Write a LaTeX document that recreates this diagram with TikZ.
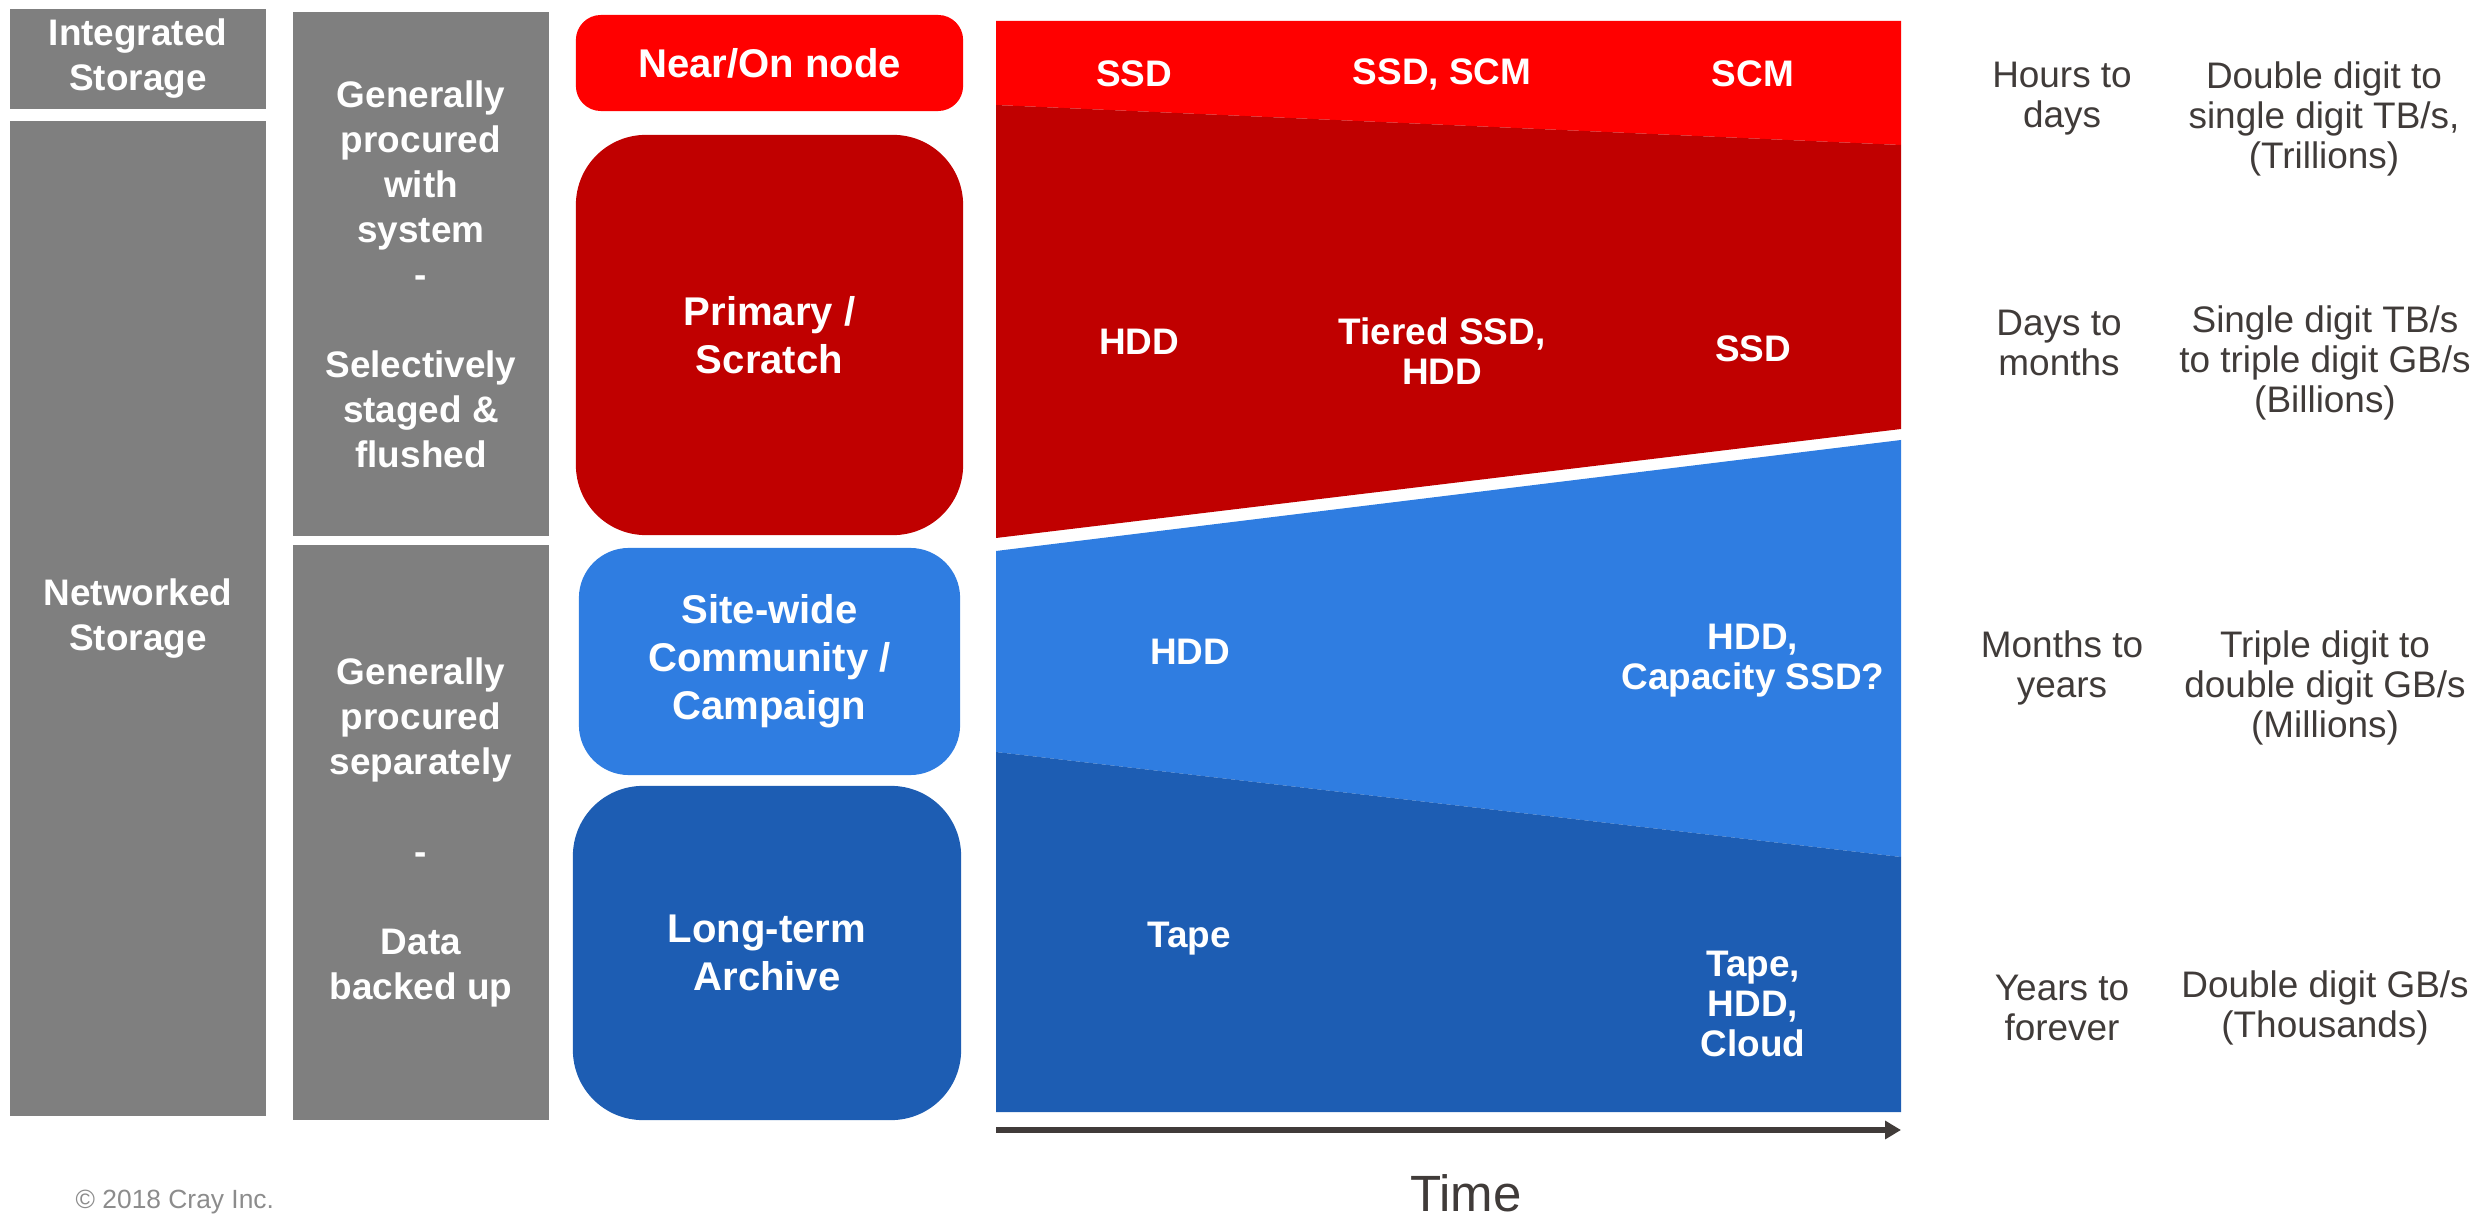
\documentclass[tikz,border=0pt]{standalone}
\usepackage{fontspec}
\setmainfont{Liberation Sans}
\usepackage{tikz}
\usetikzlibrary{arrows.meta}
\definecolor{boxgray}{HTML}{7F7F7F}
\definecolor{nearred}{HTML}{FF0000}
\definecolor{primred}{HTML}{C00000}
\definecolor{siteblue}{HTML}{2F7DE1}
\definecolor{archblue}{HTML}{1D5DB3}
\definecolor{sidegray}{HTML}{403B39}
\definecolor{notegray}{HTML}{8C8C8C}
\tikzset{graybox/.style={fill=boxgray,text=white,font=\bfseries\fontsize{10.5}{12.8}\selectfont,align=center,inner sep=0pt}}
\tikzset{tierbox/.style={text=white,font=\bfseries\fontsize{11.4}{13.6}\selectfont,align=center,inner sep=0pt}}

\begin{document}
\begin{tikzpicture}[x=0.01cm,y=-0.01cm]
\tikzset{medialabel/.style={text=white,font=\bfseries\fontsize{10.5}{11.4}\selectfont,align=center,inner sep=0pt},
  sidelabel/.style={text=sidegray,font=\fontsize{10.5}{11.4}\selectfont,align=center,inner sep=0pt}}
\useasboundingbox (0,0) rectangle (2479,1219);
% left columns
\node[graybox,minimum width=2.56cm,minimum height=1cm] (integ) at (138,59) {Integrated\\Storage};
\node[graybox,minimum width=2.56cm,minimum height=9.95cm] (netw) at (138,618.5) {Networked\\Storage};
\node[graybox,minimum width=2.56cm,minimum height=5.24cm] (withsys) at (421,274) {Generally\\procured\\with\\system\\-\\[12.8pt]Selectively\\staged \&\\flushed};
\node[graybox,minimum width=2.56cm,minimum height=5.75cm] (separate) at (421,832.5) {Generally\\procured\\separately\\[12.8pt]-\\[12.8pt]Data\\backed up};
% storage tiers
\node[tierbox,fill=nearred,rounded corners=0.25cm,minimum width=3.87cm,minimum height=0.96cm] (near) at (769.5,63) {Near/On node};
\node[tierbox,fill=primred,rounded corners=0.7cm,minimum width=3.87cm,minimum height=4cm] (primary) at (769.5,335) {Primary /\\Scratch};
\node[tierbox,fill=siteblue,rounded corners=0.5cm,minimum width=3.81cm,minimum height=2.27cm] (site) at (769.5,661.5) {Site-wide\\Community /\\Campaign};
\node[tierbox,fill=archblue,rounded corners=0.7cm,minimum width=3.88cm,minimum height=3.34cm] (archive) at (767,953) {Long-term\\Archive};
% bands over time
\fill[nearred] (996,21) -- (1901,21) -- (1901,145) -- (996,105) -- cycle;
\fill[primred] (996,105) -- (1901,145) -- (1901,429) -- (996,538) -- cycle;
\fill[siteblue] (996,551) -- (1901,440) -- (1901,857) -- (996,752) -- cycle;
\fill[archblue] (996,752) -- (1901,857) -- (1901,1112) -- (996,1112) -- cycle;
\node[medialabel] (n1) at (1134,74) {SSD};
\node[medialabel] (n2) at (1442,74) {SSD, SCM};
\node[medialabel] (n3) at (1753,74) {SCM};
\node[medialabel] (p1) at (1139,342) {HDD};
\node[medialabel] (p2) at (1442,351) {Tiered SSD,\\HDD};
\node[medialabel] (p3) at (1753,349) {SSD};
\node[medialabel] (s1) at (1190,652) {HDD};
\node[medialabel] (s3) at (1753,661) {HDD,\\Capacity SSD?};
\node[medialabel] (a1) at (1189,939) {Tape};
\node[medialabel] (a3) at (1753,1004) {Tape,\\HDD,\\Cloud};
% time axis
\coordinate (t0) at (996,1130);
\coordinate (t1) at (1901,1130);
\draw[sidegray,line width=1.5pt,-{Triangle[length=4.5pt,width=5pt]}] (t0) -- (t1);
\node[text=sidegray,font=\fontsize{14.5}{17}\selectfont] (time) at (1466,1193) {Time};
% retention and rates
\node[sidelabel] (r1) at (2062,99) {Hours to\\days};
\node[sidelabel] (r2) at (2059,343) {Days to\\months};
\node[sidelabel] (r3) at (2062,668) {Months to\\years};
\node[sidelabel] (r4) at (2062,1008) {Years to\\forever};
\node[sidelabel] (b1) at (2324,119) {Double digit to\\single digit TB/s,\\(Trillions)};
\node[sidelabel] (b2) at (2325,363) {Single digit TB/s\\to triple digit GB/s\\(Billions)};
\node[sidelabel] (b3) at (2325,688) {Triple digit to\\double digit GB/s\\(Millions)};
\node[sidelabel] (b4) at (2325,1008) {Double digit GB/s\\(Thousands)};
\node[text=notegray,font=\fontsize{7.5}{9}\selectfont,anchor=west,inner sep=0pt] (copy) at (75,1202) {\textcopyright{} 2018 Cray Inc.};
\end{tikzpicture}
\end{document}
